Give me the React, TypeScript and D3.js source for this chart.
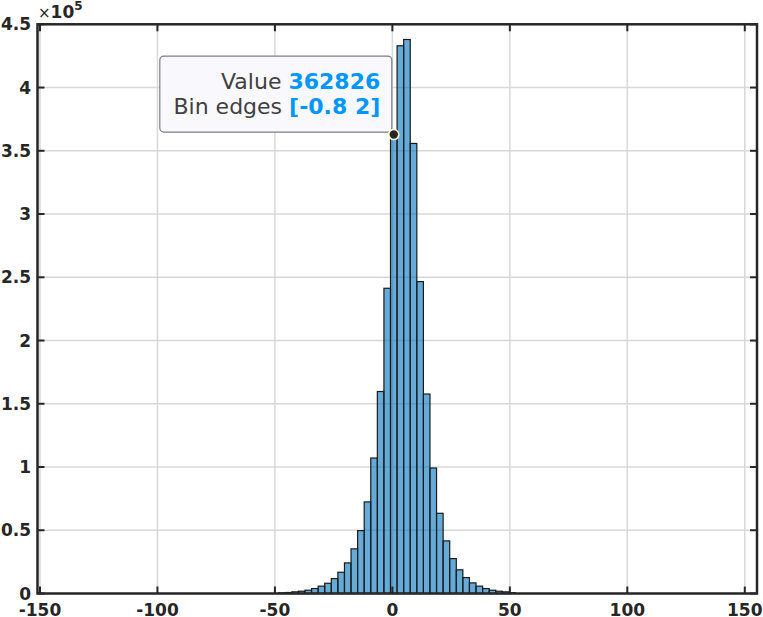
import React from "react";
import * as d3 from "d3";

// histogram: bin edges start at binStart, every binWidth
const binStart = -48.4;
const binWidth = 2.8;
const counts = [
  500, 800, 1300, 1800, 2600, 3900, 5800, 8100, 11800, 16800, 24200, 35300,
  49700, 72400, 107100, 159700, 241300, 362826, 433000, 438000, 355800,
  246600, 157700, 99200, 63400, 41600, 27600, 18700, 12600, 8400, 5800,
  3900, 2600, 1800, 1300, 600,
];

const xTicks = [-150, -100, -50, 0, 50, 100, 150];
const yTicks = [0, 50000, 100000, 150000, 200000, 250000, 300000, 350000, 400000, 450000];
const yTickLabels = ["0", "0.5", "1", "1.5", "2", "2.5", "3", "3.5", "4", "4.5"];

const tipValue = 362826;
const tipEdges = [-0.8, 2];

export default function App() {
  const width = 763;
  const height = 617;
  const left = 37.5, right = 757, top = 24.3, bottom = 593.5;

  const x = d3.scaleLinear().domain([-151.06, 155.2]).range([left, right]);
  const y = d3.scaleLinear().domain([0, 450000]).range([bottom, top]);

  const bins = counts.map((c, i) => ({
    x0: binStart + i * binWidth,
    x1: binStart + (i + 1) * binWidth,
    c,
  }));

  const axisColor = "#262626";
  const tickLen = 7;
  const font = "DejaVu Sans";

  // data tip
  const mx = x((tipEdges[0] + tipEdges[1]) / 2);
  const my = y(tipValue);
  const boxW = 232, boxH = 76;
  const boxX = mx - 2 - boxW;
  const boxY = my - 2.5 - boxH;

  return (
    <svg width={width} height={height} style={{ position: "absolute", left: 0, top: 0 }} fontFamily={font}>
      <rect x={0} y={0} width={width} height={height} fill="#fff" />
      {/* grid */}
      <g stroke="#d8d8d8" strokeWidth={1.5}>
        {xTicks.map((t) => (
          <line key={"gx" + t} x1={x(t)} x2={x(t)} y1={top} y2={bottom} />
        ))}
        {yTicks.map((t) => (
          <line key={"gy" + t} x1={left} x2={right} y1={y(t)} y2={y(t)} />
        ))}
      </g>
      {/* bars */}
      <g>
        {bins.map((b, i) => (
          <rect
            key={i}
            x={x(b.x0)}
            y={y(b.c)}
            width={x(b.x1) - x(b.x0)}
            height={y(0) - y(b.c)}
            fill="rgb(0,114,189)"
            fillOpacity={0.6}
            stroke="#1a1a1a"
            strokeWidth={1.2}
          />
        ))}
      </g>
      {/* ticks */}
      <g stroke={axisColor} strokeWidth={2}>
        {xTicks.map((t) => (
          <g key={"tx" + t}>
            <line x1={x(t)} x2={x(t)} y1={bottom} y2={bottom - tickLen} />
            <line x1={x(t)} x2={x(t)} y1={top} y2={top + tickLen} />
          </g>
        ))}
        {yTicks.map((t) => (
          <g key={"ty" + t}>
            <line x1={left} x2={left + tickLen} y1={y(t)} y2={y(t)} />
            <line x1={right} x2={right - tickLen} y1={y(t)} y2={y(t)} />
          </g>
        ))}
      </g>
      {/* box */}
      <rect x={left} y={top} width={right - left} height={bottom - top} fill="none" stroke={axisColor} strokeWidth={2.5} />
      {/* tick labels */}
      <g fill={axisColor} fontSize={17} fontWeight="bold">
        {xTicks.map((t) => (
          <text key={"lx" + t} x={x(t)} y={615.5} textAnchor="middle">
            {t}
          </text>
        ))}
        {yTicks.map((t, i) => (
          <text key={"ly" + t} x={31} y={y(t)} textAnchor="end" dominantBaseline="central">
            {yTickLabels[i]}
          </text>
        ))}
      </g>
      <text x={38} y={18} fill={axisColor} fontSize={17}>
        <tspan fontWeight="normal" fontSize={15}>×</tspan>
        <tspan fontWeight="bold">10</tspan>
        <tspan fontWeight="bold" fontSize={12} dy={-8}>5</tspan>
      </text>
      {/* data tip */}
      <rect x={boxX} y={boxY} width={boxW} height={boxH} rx={4} fill="#f8f8fd" stroke="#7f7f7f" strokeWidth={1.2} />
      <text x={boxX + boxW - 11.5} y={boxY + 33} textAnchor="end" fontSize={22}>
        <tspan fill="#404040">Value </tspan>
        <tspan fill="#0096ff" fontWeight="bold">{tipValue}</tspan>
      </text>
      <text x={boxX + boxW - 11.5} y={boxY + 58} textAnchor="end" fontSize={22}>
        <tspan fill="#404040">Bin edges </tspan>
        <tspan fill="#0096ff" fontWeight="bold">[{tipEdges[0]} {tipEdges[1]}]</tspan>
      </text>
      <circle cx={mx} cy={my} r={5} fill="#262626" stroke="#fffbd2" strokeWidth={1.6} />
    </svg>
  );
}
